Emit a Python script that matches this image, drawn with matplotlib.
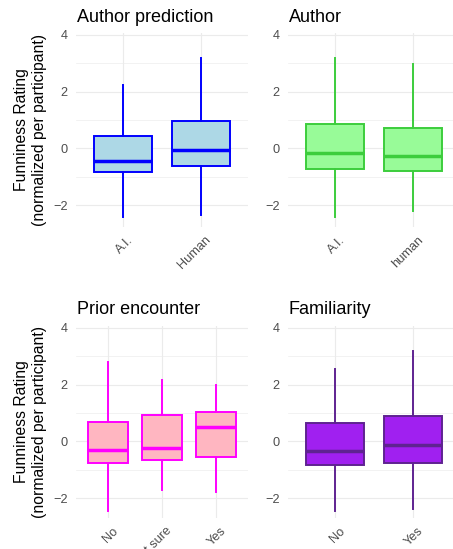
import matplotlib
matplotlib.use('Agg')
import matplotlib.pyplot as plt
import matplotlib.transforms as mtransforms
from matplotlib.ticker import MultipleLocator

plt.rcParams['font.family'] = ['Liberation Sans', 'DejaVu Sans']

# --- data ---
pred_labels = ['A.I.', 'Human']
pred_whislo = [-2.43, -2.35]
pred_q1 = [-0.83, -0.62]
pred_med = [-0.45, -0.06]
pred_q3 = [0.45, 0.95]
pred_whishi = [2.24, 3.19]

author_labels = ['A.I.', 'human']
author_whislo = [-2.43, -2.20]
author_q1 = [-0.73, -0.81]
author_med = [-0.15, -0.27]
author_q3 = [0.86, 0.72]
author_whishi = [3.19, 2.99]

prior_labels = ['No', 'Not sure', 'Yes']
prior_whislo = [-2.44, -1.71, -1.78]
prior_q1 = [-0.75, -0.65, -0.55]
prior_med = [-0.31, -0.24, 0.52]
prior_q3 = [0.68, 0.94, 1.04]
prior_whishi = [2.80, 2.15, 2.00]

fam_labels = ['No', 'Yes']
fam_whislo = [-2.44, -2.36]
fam_q1 = [-0.81, -0.74]
fam_med = [-0.32, -0.12]
fam_q3 = [0.65, 0.91]
fam_whishi = [2.56, 3.18]

W, H, DPI = 453, 549, 100
fig = plt.figure(figsize=(W / DPI, H / DPI), dpi=DPI)


def px_axes(x0, y0, x1, y1):
    # pixel box (top-left origin) -> axes
    return fig.add_axes([x0 / W, 1 - y1 / H, (x1 - x0) / W, (y1 - y0) / H])


def draw_panel(ax, title, labels, lo, q1, med, q3, hi, fill, edge, ylim, title_xy):
    stats = []
    for i in range(len(labels)):
        stats.append(dict(med=med[i], q1=q1[i], q3=q3[i], whislo=lo[i], whishi=hi[i], label=labels[i]))
    ax.bxp(stats, positions=range(1, len(labels) + 1), widths=0.75, showcaps=False, showfliers=False,
           patch_artist=True,
           boxprops=dict(facecolor=fill, edgecolor=edge, linewidth=1.4),
           whiskerprops=dict(color=edge, linewidth=1.4),
           medianprops=dict(color=edge, linewidth=2.5, solid_capstyle='butt'))
    ax.set_xlim(0.4, len(labels) + 0.6)
    ax.set_ylim(*ylim)
    ax.set_yticks([-2, 0, 2, 4])
    ax.yaxis.set_minor_locator(MultipleLocator(1))
    ax.grid(True, which='major', color='#EBEBEB', linewidth=0.85)
    ax.grid(True, which='minor', axis='y', color='#EBEBEB', linewidth=0.45)
    ax.set_axisbelow(True)
    for s in ax.spines.values():
        s.set_visible(False)
    ax.tick_params(which='both', length=0)
    ax.tick_params(axis='y', labelsize=9.2, labelcolor='#4D4D4D', pad=6)
    ax.tick_params(axis='x', labelsize=9.2, labelcolor='#4D4D4D', pad=5)
    ax.set_xticklabels(labels)
    off = mtransforms.ScaledTranslation(4 / DPI, 0, fig.dpi_scale_trans)
    for t in ax.get_xticklabels():
        t.set_rotation(45)
        t.set_ha('right')
        t.set_va('top')
        t.set_rotation_mode('anchor')
        t.set_transform(t.get_transform() + off)
    fig.text(title_xy[0] / W, 1 - title_xy[1] / H, title, fontsize=13, va='baseline', ha='left')


ax1 = px_axes(76, 33, 248, 227)
draw_panel(ax1, 'Author prediction', pred_labels, pred_whislo, pred_q1, pred_med, pred_q3, pred_whishi,
           '#ADD8E6', '#0000FF', (-2.77, 4.07), (77, 21.7))
ax2 = px_axes(288, 33, 460, 227)
draw_panel(ax2, 'Author', author_labels, author_whislo, author_q1, author_med, author_q3, author_whishi,
           '#98FB98', '#3CCD3C', (-2.77, 4.07), (289, 21.7))
ax3 = px_axes(76, 326, 248, 518)
draw_panel(ax3, 'Prior encounter', prior_labels, prior_whislo, prior_q1, prior_med, prior_q3, prior_whishi,
           '#FFB6C1', '#FF00FF', (-2.69, 4.06), (77, 314.3))
ax4 = px_axes(288, 326, 460, 518)
draw_panel(ax4, 'Familiarity', fam_labels, fam_whislo, fam_q1, fam_med, fam_q3, fam_whishi,
           '#A020F0', '#5F2391', (-2.69, 4.06), (289, 314.3))

ylab = 'Funniness Rating\n(normalized per participant)'
fig.text(31 / W, 1 - 130 / H, ylab, rotation=90, ha='center', va='center', fontsize=11.3, linespacing=1.25)
fig.text(31 / W, 1 - 422 / H, ylab, rotation=90, ha='center', va='center', fontsize=11.3, linespacing=1.25)

fig.savefig('out.png', dpi=DPI)
